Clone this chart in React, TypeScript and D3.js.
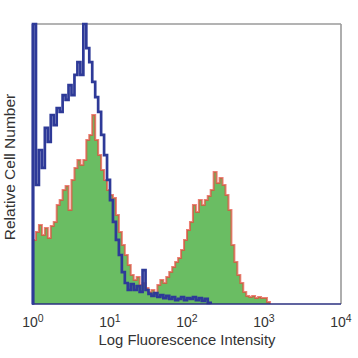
import React from "react";
import * as d3 from "d3";

// Histogram bins: 26 bins per decade on a log10 fluorescence axis (bin i starts at 10^(i/26))
const binsPerDecade = 26;

// Isotype / unstained control (blue line), relative counts 0-100
const blueCounts = [
  100, 42.5, 55.0, 48.6, 62.9, 57.9, 67.5, 63.9, 70.0, 68.6,
  74.6, 72.9, 78.2, 74.6, 81.8, 86.4, 81.8, 100, 91.4, 86.4,
  79.3, 73.9, 68.6, 60.4, 53.2, 44.3, 37.1, 29.3, 22.9, 17.5,
  11.4, 7.5, 5.0, 7.1, 5.0, 6.4, 4.3, 12.1, 5.0, 3.6,
  2.9, 3.9, 2.5, 3.2, 2.1, 2.9, 1.8, 2.5, 1.4, 1.8,
  2.5, 1.4, 2.1, 1.8, 2.5, 1.4, 2.1, 1.1, 1.8, 0.4,
  0,
];

// Stained sample (green fill, red outline), relative counts 0-100
const stainedCounts = [
  22.9, 25.7, 28.2, 24.6, 27.1, 23.6, 27.9, 29.3, 35.4, 37.1,
  40.7, 42.1, 33.6, 44.3, 48.6, 51.4, 49.6, 51.4, 58.6, 60.4,
  67.5, 58.6, 53.2, 47.9, 44.3, 40.7, 38.9, 37.9, 31.8, 25.7,
  21.1, 17.5, 13.9, 10.4, 8.6, 9.6, 6.8, 7.5, 5.7, 4.3,
  5.0, 3.6, 6.8, 8.6, 7.5, 9.6, 11.4, 13.2, 15.0, 16.4,
  19.3, 22.9, 26.4, 29.3, 35.4, 32.9, 37.1, 35.4, 37.1, 38.6,
  40.7, 47.1, 43.2, 45.0, 42.5, 38.9, 33.6, 21.1, 15.0, 10.4,
  7.5, 4.3, 2.9, 2.5, 2.9, 2.1, 2.5, 2.1, 2.1, 0.7,
  0,
];

const tickValues = [1, 10, 100, 1000, 10000];
const tickExponents = ["0", "1", "2", "3", "4"];
const xTitle = "Log Fluorescence Intensity";
const yTitle = "Relative Cell Number";

const W = 358;
const H = 358;
const left = 33;
const right = 341;
const top = 24;
const bottom = 304;

export default function App() {
  const x = d3.scaleLog().domain([1, 10000]).range([left, right]);
  const y = d3.scaleLinear().domain([0, 100]).range([bottom, top]);

  const binStart = (i: number) => Math.pow(10, i / binsPerDecade);

  const toPoints = (counts: number[]) => {
    const pts: [number, number][] = [[binStart(0), 0]];
    counts.forEach((c, i) => pts.push([binStart(i), c]));
    return pts;
  };

  const line = d3
    .line<[number, number]>()
    .x((d) => x(d[0]))
    .y((d) => y(d[1]))
    .curve(d3.curveStepAfter);

  const area = d3
    .area<[number, number]>()
    .x((d) => x(d[0]))
    .y0(y(0))
    .y1((d) => y(d[1]))
    .curve(d3.curveStepAfter);

  const stainedPts = toPoints(stainedCounts);
  const bluePts = toPoints(blueCounts);

  const textColor = "#333333";
  const font = "'Liberation Sans', Arial, sans-serif";

  return (
    <svg
      width={W}
      height={H}
      style={{ position: "absolute", left: 0, top: 0, background: "#fff" }}
    >
      <rect x={0} y={0} width={W} height={H} fill="#fff" />
      {/* frame top & right */}
      <line x1={left} x2={right} y1={top} y2={top} stroke="#9a9a9a" strokeWidth={1.6} />
      <line x1={right} x2={right} y1={top} y2={bottom} stroke="#9a9a9a" strokeWidth={1.6} />

      {/* stained sample */}
      <path d={area(stainedPts) || ""} fill="#6abd63" />
      <path
        d={line(stainedPts) || ""}
        fill="none"
        stroke="#e5483a"
        strokeOpacity={0.7}
        strokeWidth={2}
      />

      {/* control */}
      <path
        d={line(bluePts) || ""}
        fill="none"
        stroke="#2e3a98"
        strokeWidth={2.7}
      />

      {/* bottom axis line */}
      <line x1={left - 1} x2={right} y1={bottom} y2={bottom} stroke="#2b3080" strokeWidth={1.6} />
      {/* left axis line */}
      <line x1={left} x2={left} y1={top} y2={bottom + 0.8} stroke="#2e3a98" strokeWidth={2.7} />

      {/* tick labels */}
      {tickValues.map((v, i) => (
        <text
          key={v}
          x={x(v)}
          y={327}
          textAnchor="middle"
          fontFamily={font}
          fontSize={14}
          fill={textColor}
        >
          10
          <tspan fontSize={10.5} dy={-5}>
            {tickExponents[i]}
          </tspan>
        </text>
      ))}

      {/* axis titles */}
      <text
        x={(left + right) / 2}
        y={345}
        textAnchor="middle"
        fontFamily={font}
        fontSize={14.8}
        fill={textColor}
      >
        {xTitle}
      </text>
      <text
        transform={`translate(15,167) rotate(-90)`}
        textAnchor="middle"
        fontFamily={font}
        fontSize={15.5}
        fill={textColor}
      >
        {yTitle}
      </text>
    </svg>
  );
}
